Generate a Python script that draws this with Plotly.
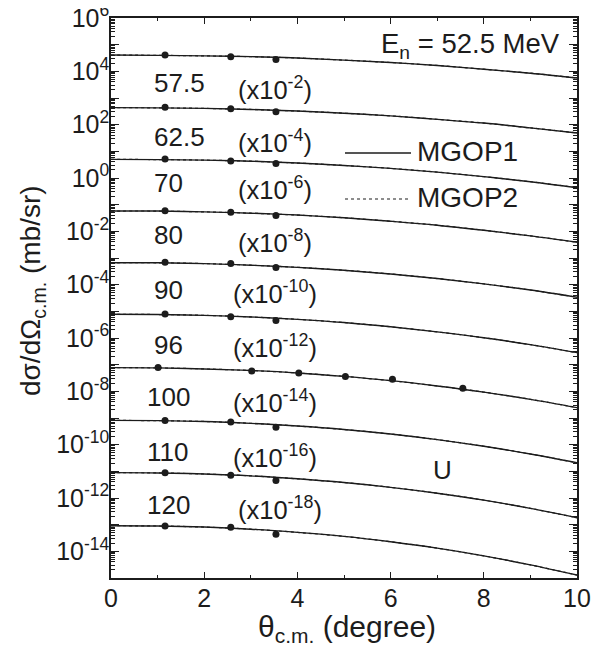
import plotly.graph_objects as go

# ---------------- data ----------------
energies = ["52.5", "57.5", "62.5", "70", "80", "90", "96", "100", "110", "120"]
scale_exp = [0, -2, -4, -6, -8, -10, -12, -14, -16, -18]

theta_grid = [0, 1, 2, 3, 4, 5, 6, 7, 8, 9, 10]

# log10 of scaled dsigma/dOmega (mb/sr) for the calculated curves (MGOP1 ~ MGOP2)
log_calc_52_5 = [4.61, 4.60, 4.58, 4.55, 4.50, 4.42, 4.33, 4.22, 4.08, 3.93, 3.75]
log_calc_57_5 = [2.64, 2.63, 2.61, 2.57, 2.51, 2.43, 2.33, 2.20, 2.06, 1.88, 1.69]
log_calc_62_5 = [0.70, 0.69, 0.67, 0.63, 0.56, 0.47, 0.36, 0.22, 0.05, -0.14, -0.36]
log_calc_70 = [-1.24, -1.24, -1.27, -1.32, -1.39, -1.49, -1.62, -1.77, -1.96, -2.17, -2.41]
log_calc_80 = [-3.18, -3.18, -3.21, -3.27, -3.35, -3.46, -3.60, -3.77, -3.97, -4.20, -4.47]
log_calc_90 = [-5.11, -5.12, -5.15, -5.21, -5.30, -5.42, -5.58, -5.77, -5.99, -6.25, -6.55]
log_calc_96 = [-7.11, -7.12, -7.16, -7.22, -7.31, -7.44, -7.60, -7.80, -8.03, -8.30, -8.61]
log_calc_100 = [-9.09, -9.10, -9.13, -9.20, -9.30, -9.43, -9.60, -9.81, -10.06, -10.35, -10.68]
log_calc_110 = [-11.05, -11.06, -11.10, -11.17, -11.28, -11.42, -11.60, -11.82, -12.08, -12.39, -12.74]
log_calc_120 = [-13.04, -13.05, -13.09, -13.17, -13.29, -13.44, -13.64, -13.88, -14.17, -14.51, -14.89]

# experimental points
theta_exp = [1.16, 2.57, 3.54]
theta_exp_96 = [1.01, 3.02, 4.03, 5.03, 6.04, 7.55]
log_exp_52_5 = [4.61, 4.55, 4.44]
log_exp_57_5 = [2.65, 2.60, 2.48]
log_exp_62_5 = [0.71, 0.64, 0.54]
log_exp_70 = [-1.23, -1.28, -1.41]
log_exp_80 = [-3.16, -3.21, -3.36]
log_exp_90 = [-5.10, -5.20, -5.34]
log_exp_96 = [-7.11, -7.24, -7.31, -7.44, -7.55, -7.88]
log_exp_100 = [-9.09, -9.15, -9.35]
log_exp_110 = [-11.05, -11.15, -11.34]
log_exp_120 = [-13.05, -13.10, -13.36]

y_tick_exps = [6, 4, 2, 0, -2, -4, -6, -8, -10, -12, -14]
x_tick_vals = [0, 2, 4, 6, 8, 10]

# ---------------- figure ----------------
calc = [log_calc_52_5, log_calc_57_5, log_calc_62_5, log_calc_70, log_calc_80,
        log_calc_90, log_calc_96, log_calc_100, log_calc_110, log_calc_120]
exp_y = [log_exp_52_5, log_exp_57_5, log_exp_62_5, log_exp_70, log_exp_80,
         log_exp_90, log_exp_96, log_exp_100, log_exp_110, log_exp_120]
exp_x = [theta_exp] * 6 + [theta_exp_96] + [theta_exp] * 3

INK = "#1c1c1c"
FONT = "Liberation Sans, Arial, sans-serif"

fig = go.Figure()
for i, logs in enumerate(calc):
    yv = [10 ** v for v in logs]
    fig.add_trace(go.Scatter(x=theta_grid, y=yv, mode="lines", line_shape="spline",
                             line=dict(color=INK, width=1.4), name="MGOP1", showlegend=False))
    fig.add_trace(go.Scatter(x=theta_grid, y=yv, mode="lines", line_shape="spline",
                             line=dict(color=INK, width=1.2, dash="dot"), name="MGOP2",
                             showlegend=False))
    fig.add_trace(go.Scatter(x=exp_x[i], y=[10 ** v for v in exp_y[i]], mode="markers",
                             marker=dict(color=INK, size=7), showlegend=False))

# page pixel -> paper fraction (plot area spans x 111..577, y 18..578 in the page)
def px(x):
    return (x - 111) / 466.0

def py(y):
    return (578 - y) / 560.0

ann = []
# energy labels
lab_pos = [(None, None), (152, 83), (152, 137), (152, 183), (152, 235), (152, 290),
           (152, 345), (145, 397), (145, 452), (145, 505)]
for i in range(1, 10):
    x0, y0 = lab_pos[i]
    ann.append(dict(x=px(x0), y=py(y0), xref="paper", yref="paper", text=energies[i],
                    showarrow=False, xanchor="left", yanchor="middle",
                    font=dict(size=26, color=INK, family=FONT)))
# multiplier labels
mult_pos = [None, (236, 88), (236, 141), (236, 188), (236, 241), (231, 292),
            (231, 346), (231, 401), (231, 456), (236, 508)]
for i in range(1, 10):
    x0, y0 = mult_pos[i]
    ann.append(dict(x=px(x0), y=py(y0), xref="paper", yref="paper",
                    text="(x10<sup>%d</sup>)" % scale_exp[i],
                    showarrow=False, xanchor="left", yanchor="middle",
                    font=dict(size=25.5, color=INK, family=FONT)))

ann.append(dict(x=px(562), y=py(45), xref="paper", yref="paper",
                text="E<sub>n</sub> = 52.5 MeV", showarrow=False, xanchor="right",
                yanchor="middle", font=dict(size=27.5, color=INK, family=FONT)))
ann.append(dict(x=px(415), y=py(151), xref="paper", yref="paper", text="MGOP1",
                showarrow=False, xanchor="left", yanchor="middle",
                font=dict(size=28, color=INK, family=FONT)))
ann.append(dict(x=px(415), y=py(197), xref="paper", yref="paper", text="MGOP2",
                showarrow=False, xanchor="left", yanchor="middle",
                font=dict(size=28, color=INK, family=FONT)))
ann.append(dict(x=px(442), y=py(470), xref="paper", yref="paper", text="U",
                showarrow=False, xanchor="center", yanchor="middle",
                font=dict(size=26, color=INK, family=FONT)))
# axis titles
ann.append(dict(x=px(347), y=py(628), xref="paper", yref="paper",
                text="θ<sub>c.m.</sub> (degree)", showarrow=False, xanchor="center",
                yanchor="middle", font=dict(size=30, color=INK, family=FONT)))
ann.append(dict(x=px(32), y=py(291), xref="paper", yref="paper",
                text="dσ/dΩ<sub>c.m.</sub> (mb/sr)", showarrow=False, textangle=-90,
                xanchor="center", yanchor="middle",
                font=dict(size=28, color=INK, family=FONT)))

shapes = [
    dict(type="line", xref="paper", yref="paper", x0=px(345), x1=px(411), y0=py(153), y1=py(153),
         line=dict(color=INK, width=1.4)),
    dict(type="line", xref="paper", yref="paper", x0=px(345), x1=px(409), y0=py(199), y1=py(199),
         line=dict(color=INK, width=1.2, dash="dot")),
]

y_major = [10.0 ** k for k in range(-15, 7)]
y_text = []
for k in range(-15, 7):
    y_text.append("10<sup>%d</sup>" % k if k in y_tick_exps else "")
y_minor = [m * 10.0 ** k for k in range(-15, 6) for m in range(2, 10)]

# the page body adds an 8 px offset, so the figure is 8 px smaller and shifted
fig.update_layout(
    width=608, height=643,
    margin=dict(l=103, r=39, t=10, b=73),
    paper_bgcolor="white", plot_bgcolor="white",
    font=dict(family=FONT, color=INK, size=24),
    annotations=ann, shapes=shapes,
    xaxis=dict(range=[0, 10], tickmode="array", tickvals=x_tick_vals, automargin=False,
               ticks="inside", ticklen=6, tickwidth=1.2, tickcolor=INK,
               ticklabelstandoff=-3,
               minor=dict(tickvals=[1, 3, 5, 7, 9], ticks="inside", ticklen=3,
                          tickwidth=1.2, tickcolor=INK),
               showline=True, linecolor=INK, linewidth=1.5, mirror="allticks",
               showgrid=False, zeroline=False,
               tickfont=dict(size=25, family=FONT, color=INK)),
    yaxis=dict(type="log", range=[-15, 6], tickmode="array", tickvals=y_major, automargin=False,
               ticktext=y_text, ticks="inside", ticklen=8, tickwidth=1.2, tickcolor=INK,
               ticklabeloverflow="allow", ticklabelstandoff=-5,
               minor=dict(tickvals=y_minor, ticks="inside", ticklen=4, tickwidth=0.8,
                          tickcolor=INK),
               showline=True, linecolor=INK, linewidth=1.5, mirror="allticks",
               showgrid=False, zeroline=False,
               tickfont=dict(size=25, family=FONT, color=INK)),
)

fig.write_html("out.html")
